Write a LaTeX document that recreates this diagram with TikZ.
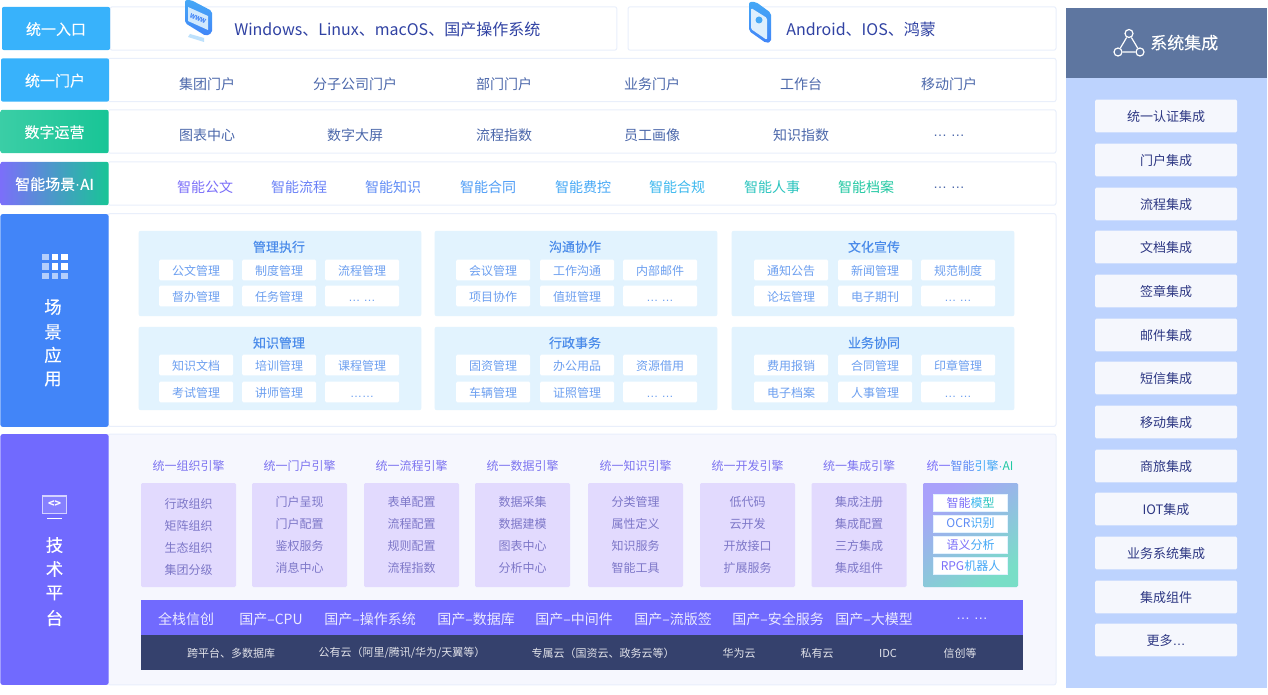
\documentclass[tikz,border=0pt]{standalone}
\usepackage{fontspec}
\setmainfont{Noto Sans CJK SC}
\newfontfamily\medfont[FakeBold=0.15]{Noto Sans CJK SC}
\newfontfamily\dotfont{Liberation Sans}
\newcommand{\moredots}{{\dotfont… …}}
\newcommand{\middot}{{\dotfont·}}
\usetikzlibrary{positioning}
\definecolor{skyblue}{HTML}{38B2FB}
\definecolor{mint}{HTML}{18C596}
\definecolor{scenblue}{HTML}{4285F8}
\definecolor{techviolet}{HTML}{716AFE}
\definecolor{darkbar}{HTML}{35416D}
\definecolor{headslate}{HTML}{5E76A0}
\definecolor{sidebody}{HTML}{BDD3FE}
\definecolor{sideitem}{HTML}{F5F7FD}
\definecolor{rowline}{HTML}{E9EFFB}
\definecolor{rowtext}{HTML}{4C68AB}
\definecolor{grouptint}{HTML}{E2F3FE}
\definecolor{chiptext}{HTML}{6C9FF0}
\definecolor{grouptitle}{HTML}{4A8BEA}
\definecolor{techbg}{HTML}{F6F7FE}
\definecolor{enginebg}{HTML}{E2DAFE}
\definecolor{enginetext}{HTML}{7D77C8}
\definecolor{enginetitle}{HTML}{7D74F0}
\definecolor{aione}{HTML}{7B6FF9}
\definecolor{aitwo}{HTML}{5F8CF5}
\definecolor{aithree}{HTML}{45A8F6}
\definecolor{aifour}{HTML}{3BB8EE}
\definecolor{aifive}{HTML}{2AC4BE}
\definecolor{aisix}{HTML}{20C8A2}
\tikzset{
	tag/.style = {shape=rectangle, rounded corners=1.5pt, text=white, font=\medfont\fontsize{11.25}{13}\selectfont, text height=10.9pt, text depth=1.35pt, minimum width=81pt, minimum height=32.5pt, inner sep=0pt},
	tall/.style = {tag, minimum height=159.5pt},
	tallchar/.style = {text=white, font=\medfont\fontsize{13}{15}\selectfont, inner sep=0pt},
	panel/.style = {shape=rectangle, rounded corners=1.5pt, draw=rowline, fill=white, line width=.75pt, inner sep=0pt},
	rowitem/.style = {text=rowtext, font=\fontsize{10.5}{12}\selectfont, inner sep=0pt, yshift=-.4pt},
	entry/.style = {text=rowtext!75!blue!85!black, font=\fontsize{12}{14}\selectfont, inner sep=0pt},
	group/.style = {shape=rectangle, rounded corners=1.5pt, fill=grouptint, minimum width=212pt, inner sep=0pt},
	grouphead/.style = {text=grouptitle, font=\medfont\fontsize{9.75}{11}\selectfont, inner sep=0pt, yshift=-.6pt},
	chip/.style = {shape=rectangle, rounded corners=1pt, fill=white, text=chiptext, font=\fontsize{9}{10}\selectfont, text height=9.2pt, text depth=1.1pt, minimum width=55.5pt, minimum height=15.5pt, inner sep=0pt},
	enginehead/.style = {text=enginetitle, font=\fontsize{9}{10}\selectfont, inner sep=0pt, yshift=-.5pt},
	engine/.style = {shape=rectangle, rounded corners=1pt, fill=enginebg, minimum width=71.25pt, minimum height=78pt, inner sep=0pt},
	enginerow/.style = {text=enginetext, font=\fontsize{9}{10}\selectfont, inner sep=0pt, yshift=-.5pt},
	aichip/.style = {shape=rectangle, fill=white, draw=white!85!aithree, line width=.3pt, font=\fontsize{9}{10}\selectfont, minimum width=55.5pt, minimum height=12.75pt, inner sep=0pt},
	baritem/.style = {text=white!85!techviolet, font=\fontsize{10.5}{12}\selectfont, inner sep=0pt},
	cloud/.style = {text=white!85!darkbar, font=\fontsize{8.25}{10}\selectfont, inner sep=0pt},
	sideitembox/.style = {shape=rectangle, rounded corners=1pt, fill=sideitem, text=darkbar!85!blue, font=\fontsize{9.75}{11}\selectfont, text height=10pt, text depth=1.2pt, minimum width=106.5pt, minimum height=24.5pt, inner sep=0pt},
	netdot/.style = {draw=white, line width=.9pt, circle, inner sep=0pt, minimum size=6pt}
}
\begin{document}
\begin{tikzpicture}[x=.75pt, y=-.75pt]
	\useasboundingbox (0,0) rectangle (1268,695);
	% left column rows
	\node[panel, minimum width=380pt, minimum height=32.5pt] (entrypc) at (363.5,28.5) {};
	\node[panel, minimum width=321pt, minimum height=32.5pt] (entrymob) at (842,28.5) {};
	\node[panel, minimum width=711pt, minimum height=32.5pt] (rowportal) at (582,80) {};
	\node[panel, minimum width=711pt, minimum height=32.5pt] (rowdata) at (582,131.5) {};
	\node[panel, minimum width=711pt, minimum height=32.5pt] (rowai) at (582,183.5) {};
	\node[panel, minimum width=711pt, minimum height=159.5pt] (rowscene) at (582,320) {};
	\node[panel, fill=techbg, minimum width=711pt, minimum height=188pt] (rowtech) at (582,559.5) {};
	\node[tag, fill=skyblue] (tagentry) at (56,28.5) {统一入口};
	\node[tag, fill=skyblue] (tagportal) at (55,80) {统一门户};
	\node[tag, left color=mint!85!white, right color=mint] (tagdata) at (54.5,131.5) {数字运营};
	\node[tag, left color=aione, middle color=skyblue, right color=mint] (tagai) at (54.5,183.5) {智能场景\middot AI};
	\node[tall, fill=scenblue] (tagscene) at (54.5,320.5) {};
	\node[tall, fill=techviolet, minimum height=188pt] (tagtech) at (54.5,559.5) {};
	% entry row
	\fill[aithree!35!white] (190,34) -- (204,38) -- (204,42) -- (188,37) -- cycle;
	\shade[top color=aithree, bottom color=scenblue, rounded corners=1.5pt] (185,0) -- (191,0) -- (212,11) -- (212,33) -- (206,36) -- (185,23) -- cycle;
	\fill[aithree!25!white] (188,7) -- (208,16) -- (208,30) -- (188,21) -- cycle;
	\node[text=scenblue, font=\fontsize{4.5}{5}\selectfont\bfseries, inner sep=0pt, rotate=-24] (wwwsign) at (198,18.5) {WWW};
	\shade[top color=aithree, bottom color=scenblue, rounded corners=1.5pt] (749,2) -- (756,2) -- (771,13) -- (771,42) -- (766,43) -- (749,31) -- cycle;
	\fill[aithree!18!white, rounded corners=1pt] (751,8) -- (767,18) -- (767,40) -- (751,29) -- cycle;
	\fill[aithree] (759,20) circle (3.5);
	\node[entry, anchor=west] (pctext) at (234,29) {Windows、Linux、macOS、国产操作系统};
	\node[entry, anchor=west] (mobtext) at (786,29) {Android、IOS、鸿蒙};
	% portal and data rows
	\foreach \cx/\txt [count=\i] in {207/集团门户, 355/分子公司门户, 504/部门门户, 652/业务门户, 801/工作台, 949/移动门户}
		\node[rowitem] (portal\i) at (\cx,84) {\txt};
	\foreach \cx/\txt [count=\i] in {207/图表中心, 355/数字大屏, 504/流程指数, 652/员工画像, 801/知识指数, 949/\moredots}
		\node[rowitem] (data\i) at (\cx,135) {\txt};
	\foreach \cx/\txt/\col [count=\i] in {205/智能公文/aione, 299/智能流程/aitwo!60!aione, 393/智能知识/aitwo, 488/智能合同/aitwo!40!aithree, 583/智能费控/aithree, 677/智能合规/aifour, 772/智能人事/aifive, 866/智能档案/aisix}
		\node[rowitem, text=\col] (ai\i) at (\cx,187) {\txt};
	\node[rowitem] (aimore) at (949,187) {\moredots};
	% scene groups
	\node[group, minimum height=64pt] (groupa) at (280,273.5) {};
	\node[group, minimum height=64pt] (groupb) at (576,273.5) {};
	\node[group, minimum height=64pt] (groupc) at (873,273.5) {};
	\node[group, minimum height=62.5pt] (groupd) at (280,368.5) {};
	\node[group, minimum height=62.5pt] (groupe) at (576,368.5) {};
	\node[group, minimum height=62.5pt] (groupf) at (873,368.5) {};
	\foreach \cx/\cy/\txt [count=\i] in {279/246/管理执行, 575/246/沟通协作, 874/246/文化宣传, 279/342/知识管理, 575/342/行政事务, 874/342/业务协同}
		\node[grouphead] (head\i) at (\cx,\cy) {\txt};
	\foreach \cx/\cy/\txt [count=\i] in {
		196/270/公文管理, 279/270/制度管理, 362/270/流程管理, 196/296/督办管理, 279/296/任务管理, 362/296/\moredots,
		493/270/会议管理, 577/270/工作沟通, 660/270/内部邮件, 493/296/项目协作, 577/296/值班管理, 660/296/\moredots,
		791/270/通知公告, 875/270/新闻管理, 958/270/规范制度, 791/296/论坛管理, 875/296/电子期刊, 958/296/\moredots,
		196/365/知识文档, 279/365/培训管理, 362/365/课程管理, 196/392/考试管理, 279/392/讲师管理, 362/392/{\dotfont ……},
		493/365/固资管理, 577/365/办公用品, 660/365/资源借用, 493/392/车辆管理, 577/392/证照管理, 660/392/\moredots,
		791/365/费用报销, 875/365/合同管理, 958/365/印章管理, 791/392/电子档案, 875/392/人事管理, 958/392/\moredots}
		\node[chip] (chip\i) at (\cx,\cy) {\txt};
	% scene and tech tags
	\foreach \ix in {0,1,2}
		\foreach \iy in {0,1,2}
			\fill[white, opacity=.6] (42+\ix*9.5,254+\iy*9.5) rectangle +(6.5,6.5);
	\foreach \ix/\iy in {1/0,2/0,1/1,2/1}
		\fill[white] (42+\ix*9.5,254+\iy*9.5) rectangle +(6.5,6.5);
	\foreach \iy/\txt [count=\i] in {307/场, 332/景, 355/应, 379/用}
		\node[tallchar] (scene\i) at (53,\iy) {\txt};
	\draw[white!70!techviolet, fill=white!15!techviolet, line width=1.1pt] (42.5,496) rectangle (66.5,513.5);
	\draw[white, line width=1.1pt] (47,518.5) -- (62,518.5);
	\node[text=white, font=\fontsize{8}{8}\selectfont\bfseries, inner sep=0pt] (codesign) at (54.5,504.5) {<>};
	\foreach \iy/\txt [count=\i] in {545/技, 569/术, 593/平, 618/台}
		\node[tallchar] (tech\i) at (54.5,\iy) {\txt};
	% engines
	\foreach \cx/\txt [count=\i] in {188.5/统一组织引擎, 299.5/统一门户引擎, 411.5/统一流程引擎, 522.5/统一数据引擎, 635.5/统一知识引擎, 747.5/统一开发引擎, 859/统一集成引擎}{
		\node[enginehead] (enginehead\i) at (\cx,465) {\txt};
		\node[engine] (engine\i) at (\cx,535) {};
	}
	\node[enginehead] (enginehead8) at (970,465) {\textcolor{aione}{统一}\textcolor{aitwo}{智能}\textcolor{aithree}{引擎}\textcolor{aifour}{\middot}\textcolor{aisix}{AI}};
	\node[engine, left color=aione!65!white, middle color=aithree!65!white, right color=aisix!60!white, shading angle=35] (engine8) at (970.5,535) {};
	\foreach \cx/\cy/\txt [count=\i] in {
		188.5/503/行政组织, 188.5/525/矩阵组织, 188.5/547/生态组织, 188.5/569/集团分级,
		299.5/501/门户呈现, 299.5/523/门户配置, 299.5/545/鉴权服务, 299.5/567/消息中心,
		411.5/501/表单配置, 411.5/523/流程配置, 411.5/545/规则配置, 411.5/567/流程指数,
		522.5/501/数据采集, 522.5/523/数据建模, 522.5/545/图表中心, 522.5/567/分析中心,
		635.5/501/分类管理, 635.5/523/属性定义, 635.5/545/知识服务, 635.5/567/智能工具,
		747.5/501/低代码, 747.5/523/云开发, 747.5/545/开放接口, 747.5/567/扩展服务,
		859/501/集成注册, 859/523/集成配置, 859/545/三方集成, 859/567/集成组件}
		\node[enginerow] (enginerow\i) at (\cx,\cy) {\txt};
	\node[aichip] (aichipa) at (970.5,503) {\textcolor{aione}{智能}\textcolor{aifour}{模}\textcolor{aifive}{型}};
	\node[aichip] (aichipb) at (970.5,523.5) {\textcolor{aitwo}{OCR}\textcolor{aithree}{识别}};
	\node[aichip] (aichipc) at (970.5,544.5) {\textcolor{aione}{语义}\textcolor{aithree}{分析}};
	\node[aichip] (aichipd) at (970.5,565.5) {\textcolor{aione}{RPG}\textcolor{aithree}{机器人}};
	% bottom bars
	\node[shape=rectangle, fill=techviolet, minimum width=661.5pt, minimum height=26.25pt, inner sep=0pt] (barcn) at (582,617.5) {};
	\node[shape=rectangle, fill=darkbar, minimum width=661.5pt, minimum height=26.25pt, inner sep=0pt] (barcloud) at (582,652.5) {};
	\foreach \cx/\txt [count=\i] in {186/全栈信创, 271/国产–CPU, 370/国产–操作系统, 476/国产–数据库, 574/国产–中间件, 673/国产–流版签, 778/国产–安全服务, 874/国产–大模型, 972/\moredots}
		\node[baritem] (baritem\i) at (\cx,619) {\txt};
	\foreach \cx/\txt [count=\i] in {231/跨平台、多数据库, 402/{公有云（阿里/腾讯/华为/天翼等）}, 603/专属云（国资云、政务云等）, 739/华为云, 817/私有云, 888/IDC, 960/信创等}
		\node[cloud] (cloud\i) at (\cx,653) {\txt};
	% system integration column
	\node[shape=rectangle, fill=sidebody, minimum width=151pt, minimum height=457.5pt, inner sep=0pt] (sidepanel) at (1166.5,383) {};
	\node[shape=rectangle, fill=headslate, minimum width=151pt, minimum height=52.5pt, inner sep=0pt] (sidehead) at (1166.5,43) {};
	\node[text=white, font=\medfont\fontsize{12.75}{15}\selectfont, inner sep=0pt, anchor=west] (sidetitle) at (1150,42.7) {系统集成};
	\foreach \cy/\txt [count=\i] in {116/统一认证集成, 160/门户集成, 204/流程集成, 247/文档集成, 291/签章集成, 335/邮件集成, 378/短信集成, 422/移动集成, 466/商旅集成, 509/IOT集成, 553/业务系统集成, 597/集成组件, 640/更多{\dotfont …}}
		\node[sideitembox] (sideitem\i) at (1166,\cy) {\txt};
	\node[netdot] (nettop) at (1129,33.5) {};
	\node[netdot] (netleft) at (1118,52) {};
	\node[netdot] (netright) at (1140,52) {};
	\draw[white, line width=.9pt] (nettop) -- (netleft) -- (netright) -- (nettop);
\end{tikzpicture}
\end{document}
